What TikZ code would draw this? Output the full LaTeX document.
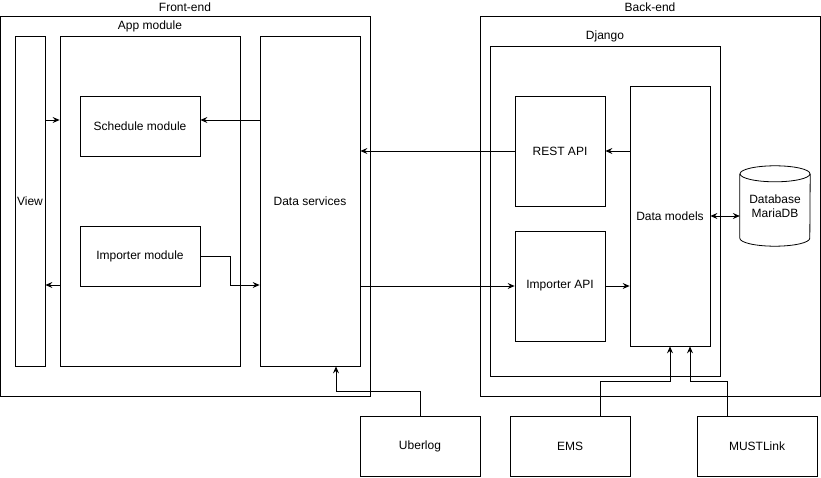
\documentclass[tikz,border=0pt]{standalone}
\usepackage{fontspec}
\setmainfont{Liberation Sans}
\usetikzlibrary{arrows.meta}

\tikzset{
  box/.style={draw, line width=0.8pt, inner sep=0pt, align=center},
  arr/.style={-{Stealth[length=7pt,width=6pt,inset=2.5pt]}, line width=0.8pt},
  line/.style={line width=0.8pt}
}

\begin{document}
\begin{tikzpicture}[x=1pt, y=-1pt, font=\fontsize{12}{14}\selectfont]
\useasboundingbox (0,0) rectangle (821,478);

% Front-end
\node[box, minimum width=370pt, minimum height=380pt, label={above:Front-end}] (frontend) at (185,206) {};
\node[box, minimum width=180pt, minimum height=330pt, label={above:App module}] (appmod) at (150,201) {};
\node[box, minimum width=30pt, minimum height=330pt] (view) at (30,201) {View};
\node[box, minimum width=100pt, minimum height=330pt] (datasrv) at (310,201) {Data services};
\node[box, minimum width=120pt, minimum height=60pt] (schedule) at (140,126) {Schedule module};
\node[box, minimum width=120pt, minimum height=60pt] (importer) at (140,256) {Importer module};

% Back-end
\node[box, minimum width=340pt, minimum height=380pt, label={above:Back-end}] (backend) at (650,206) {};
\node[box, minimum width=230pt, minimum height=330pt, label={above:Django}] (django) at (605,211) {};
\node[box, minimum width=90pt, minimum height=110pt] (rest) at (560,151) {REST API};
\node[box, minimum width=90pt, minimum height=110pt] (impapi) at (560,286) {Importer API};
\node[box, minimum width=80pt, minimum height=260pt] (models) at (670,216) {Data models};

% Database
\node[inner sep=0pt, minimum width=70pt, minimum height=80pt, align=center] (db) at (775,206) {Database\\MariaDB};
\draw[line] ([yshift=-8pt]db.north west) -- ([yshift=8pt]db.south west)
  arc[start angle=180, end angle=360, x radius=35pt, y radius=8pt]
  -- ([yshift=-8pt]db.north east);
\draw[line] ([yshift=-8pt]db.north) ellipse[x radius=35pt, y radius=8pt];

% Sources
\node[box, minimum width=120pt, minimum height=60pt] (uberlog) at (420,446) {Uberlog};
\node[box, minimum width=120pt, minimum height=60pt] (ems) at (570,446) {EMS};
\node[box, minimum width=120pt, minimum height=60pt] (must) at (757,446) {MUSTLink};

% Front-end arrows
\draw[arr] (view.east |- 0,120) -- (appmod.west |- 0,120);
\draw[arr] (appmod.west |- 0,285) -- (view.east |- 0,285);
\draw[arr] (datasrv.west |- 0,120) -- (schedule.east |- 0,120);
\draw[arr] (importer.east) -- ++(30,0) |- (datasrv.west |- 0,285);

% Between ends
\draw[arr] (rest.west) -- (datasrv.east |- rest.west);
\draw[arr] (datasrv.east |- impapi.west) -- (impapi.west);

% Back-end arrows
\draw[arr] (impapi.east) -- (models.west |- impapi.east);
\draw[arr] (models.west |- rest.east) -- (rest.east);
\draw[arr, {Stealth[length=7pt,width=6pt,inset=2.5pt]}-{Stealth[length=7pt,width=6pt,inset=2.5pt]}] (models.east) -- (db.west |- models.east);

% Sources arrows
\draw[arr] (uberlog.north) |- (336,391) -- (datasrv.south -| 336,0);
\draw[arr] ([xshift=30pt]ems.north) |- (670,381) -- (models.south -| 670,0);
\draw[arr] ([xshift=-30pt]must.north) |- (690,381) -- (models.south -| 690,0);
\end{tikzpicture}
\end{document}
